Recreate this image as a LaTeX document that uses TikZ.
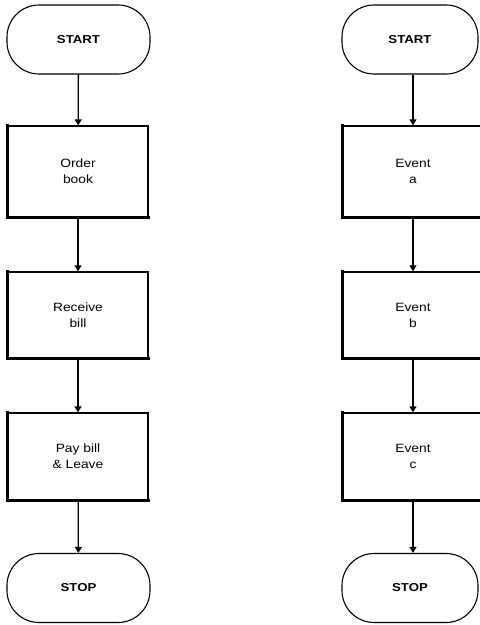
\documentclass[tikz,border=0pt]{standalone}
\usepackage{fontspec}
\setmainfont{Liberation Sans}[FakeStretch=1.15]
\usetikzlibrary{arrows.meta}
\begin{document}
\begin{tikzpicture}[x=1pt,y=-1pt,
  terminal/.style={draw,line width=1.1pt,rounded corners=32pt,minimum height=69pt,
    font=\fontsize{11.5}{13}\selectfont\bfseries,inner sep=0pt},
  stepbox/.style={draw,line width=1.3pt,minimum width=140pt,align=center,
    font=\fontsize{12}{16}\selectfont,inner sep=0pt},
  flow/.style={line width=1.3pt,-{Triangle[width=7pt,length=6pt]}},
  ledge/.style={line width=3pt,line cap=rect}]
\useasboundingbox (0,0) rectangle (480,625);
\begin{scope}
\clip (0,0) rectangle (480,625);
% left column: ordering a book
\node[terminal,minimum width=143pt] (s1) at (78.5,39.5) {START};
\node[stepbox,minimum height=91pt] (a1) at (78,171.5) {Order\\book};
\node[stepbox,minimum height=86pt] (a2) at (78,315) {Receive\\bill};
\node[stepbox,minimum height=87pt] (a3) at (78,456.5) {Pay bill\\\& Leave};
\node[terminal,minimum width=143pt] (e1) at (78.5,588) {STOP};
% right column: generic events
\node[terminal,minimum width=136pt] (s2) at (410,39.5) {START};
\node[stepbox,minimum height=91pt] (b1) at (413,171.5) {Event\\a};
\node[stepbox,minimum height=86pt] (b2) at (413,315) {Event\\b};
\node[stepbox,minimum height=87pt] (b3) at (413,456.5) {Event\\c};
\node[terminal,minimum width=136pt] (e2) at (410,588) {STOP};
% heavier left and bottom edges on the boxes
\foreach \b in {a1,a2,a3,b1,b2,b3}
  \draw[ledge] (\b.north west) -- (\b.south west) -- (\b.south east);
% connectors
\draw[flow] (s1) -- (a1);
\draw[flow] (a1) -- (a2);
\draw[flow] (a2) -- (a3);
\draw[flow] (a3) -- (e1);
\draw[flow] (s2.south -| b1) -- (b1);
\draw[flow] (b1) -- (b2);
\draw[flow] (b2) -- (b3);
\draw[flow] (b3) -- (e2.north -| b3);
\end{scope}
\end{tikzpicture}
\end{document}
